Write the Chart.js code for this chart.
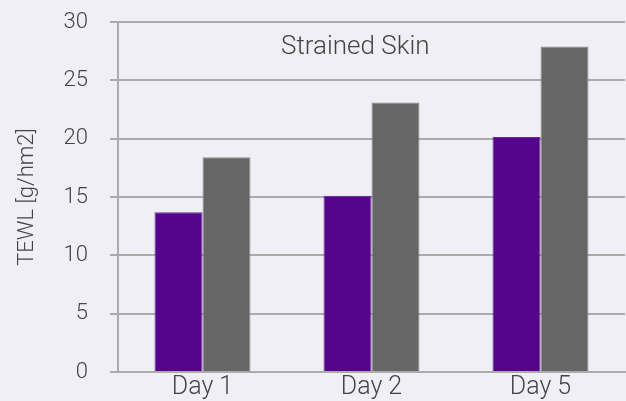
<!DOCTYPE html>
<html>
<head>
<meta charset="utf-8">
<script src="https://cdn.jsdelivr.net/npm/chart.js@4/dist/chart.umd.min.js"></script>
<style>
  html, body { margin: 0; padding: 0; background: #f1eff6; }
  #wrap { width: 626px; height: 401px; position: relative; }
</style>
</head>
<body>
<div id="wrap"><canvas id="tewlChart"></canvas></div>
<script>
const days = ['Day 1', 'Day 2', 'Day 5'];
const purpleSeries = [13.7, 15.1, 20.15];
const graySeries = [18.4, 23.1, 27.9];
const yTicks = [0, 5, 10, 15, 20, 25, 30];

const chartTitle = 'Strained Skin';
const axisTitle = 'TEWL [g/hm2]';

const textColor = '#444444';
const gridColor = '#ababab';

// Title sits inside the plot area, so draw it after the datasets.
const innerTitle = {
  id: 'innerTitle',
  afterDraw(chart) {
    const { ctx, chartArea } = chart;
    ctx.save();
    ctx.font = '300 26px Roboto';
    ctx.fillStyle = textColor;
    ctx.textAlign = 'center';
    ctx.textBaseline = 'middle';
    const x = chartArea.left + (chartArea.right - chartArea.left) * 0.468;
    ctx.fillText(chartTitle, x, chartArea.top + 25);
    ctx.restore();
  }
};

document.addEventListener('DOMContentLoaded', () => {
  const canvas = document.getElementById('tewlChart');

  new Chart(canvas, {
    type: 'bar',
    data: {
      labels: days,
      datasets: [
        {
          data: purpleSeries,
          backgroundColor: '#55058a',
          borderColor: '#6a2c98',
          borderWidth: 1
        },
        {
          data: graySeries,
          backgroundColor: '#666666',
          borderColor: '#8a8a8a',
          borderWidth: 1
        }
      ]
    },
    options: {
      responsive: true,
      maintainAspectRatio: false,
      animation: false,
      layout: { padding: { top: 22, right: 1, left: 0, bottom: 0 } },
      datasets: {
        bar: { categoryPercentage: 0.568, barPercentage: 1 }
      },
      plugins: {
        legend: { display: false },
        title: { display: false },
        tooltip: { enabled: false }
      },
      scales: {
        x: {
          grid: { display: false, drawTicks: false },
          border: { display: true, color: gridColor, width: 2 },
          ticks: {
            color: textColor,
            font: { family: 'Roboto', size: 25, weight: '300' },
            padding: 1
          },
          afterFit(scale) { scale.height = 29; }
        },
        y: {
          min: 0,
          max: 30,
          afterBuildTicks(scale) {
            scale.ticks = yTicks.map(value => ({ value }));
          },
          grid: {
            color: gridColor,
            lineWidth: 2,
            tickLength: 8
          },
          border: { display: true, color: gridColor, width: 2 },
          ticks: {
            color: textColor,
            font: { family: 'Roboto', size: 22, weight: '300' },
            padding: 22
          },
          title: {
            display: true,
            text: axisTitle,
            color: textColor,
            font: { family: 'Roboto', size: 22, weight: '300' },
            padding: { top: 14, bottom: 0 }
          },
          afterFit(scale) {
            // tick padding is only horizontal here; keep the plot top/bottom from layout
            scale.width = 118;
            scale.paddingTop = 12;
            scale.paddingBottom = 12;
          }
        }
      }
    },
    plugins: [innerTitle]
  });
});
</script>
</body>
</html>
